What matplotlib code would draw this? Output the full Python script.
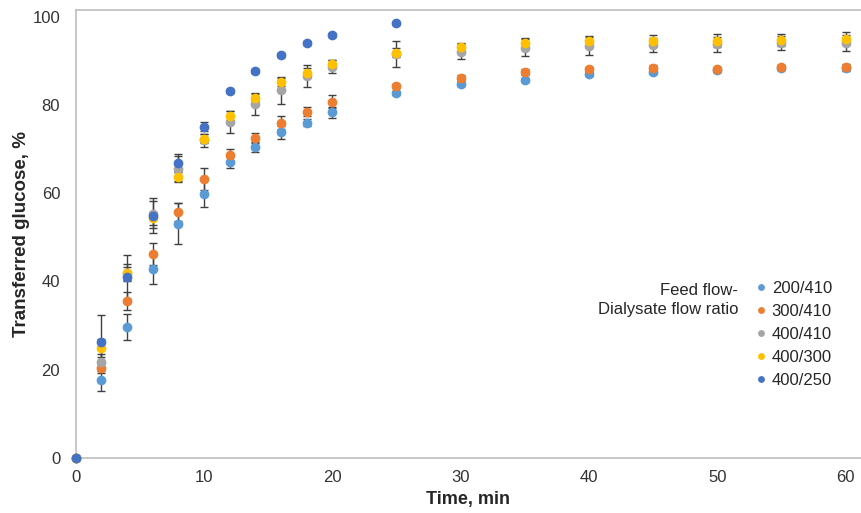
import matplotlib.pyplot as plt

plt.rcParams['font.family'] = ['Liberation Sans', 'DejaVu Sans']

# time points, min
t = [0, 2, 4, 6, 8, 10, 12, 14, 16, 18, 20, 25, 30, 35, 40, 45, 50, 55, 60]
t_250 = [0, 2, 4, 6, 8, 10, 12, 14, 16, 18, 20, 25]

# transferred glucose, %  (feed flow / dialysate flow)
g_200_410 = [0, 17.6, 29.7, 42.7, 53.1, 59.9, 67.0, 70.4, 73.8, 76.0, 78.3, 82.7, 84.7, 85.6, 87.0, 87.5, 87.9, 88.3, 88.3]
g_300_410 = [0, 20.3, 35.5, 46.3, 55.7, 63.1, 68.6, 72.6, 76.0, 78.5, 80.7, 84.3, 86.2, 87.4, 88.1, 88.3, 88.1, 88.5, 88.5]
g_400_410 = [0, 21.6, 42.0, 55.2, 65.5, 72.0, 76.1, 80.2, 83.3, 86.6, 88.7, 91.5, 92.1, 93.0, 93.4, 93.6, 93.8, 94.0, 94.0]
g_400_300 = [0, 24.9, 41.8, 54.3, 63.7, 72.3, 77.6, 81.6, 85.2, 87.3, 89.3, 91.8, 93.1, 94.0, 94.4, 94.6, 94.6, 94.7, 95.0]
g_400_250 = [0, 26.3, 41.0, 54.9, 66.9, 75.1, 83.2, 87.7, 91.3, 94.0, 95.8, 98.5]

# error bars (+/-)
e_200_410 = [0, 2.5, 3.0, 3.2, 4.7, 3.1, 1.2, 1.0, 1.5, 0.8, 1.2, 0.5, 0.5, 0.5, 0.4, 0.4, 0.4, 0.4, 0.4]
e_300_410 = [0, 1.0, 2.0, 2.5, 2.0, 2.5, 1.5, 1.0, 1.5, 1.0, 1.5, 0.5, 0.7, 0.7, 0.5, 0.7, 0.6, 0.6, 0.7]
e_400_410 = [0, 2.0, 2.0, 3.0, 3.0, 1.5, 2.5, 2.5, 3.0, 2.5, 1.5, 3.0, 1.7, 2.0, 2.0, 1.5, 1.7, 1.6, 1.8]
e_400_300 = [0, 2.0, 1.5, 1.5, 1.0, 1.0, 1.0, 0.8, 1.0, 1.0, 1.0, 1.0, 1.0, 1.2, 1.3, 1.3, 1.5, 1.4, 1.5]
e_400_250 = [0, 6.0, 5.0, 4.0, 2.0, 1.0, 0.4, 0.4, 0.4, 0.5, 0.5, 0.4]

series = [
    ('200/410', t, g_200_410, e_200_410, '#5B9BD5'),
    ('300/410', t, g_300_410, e_300_410, '#ED7D31'),
    ('400/410', t, g_400_410, e_400_410, '#A5A5A5'),
    ('400/300', t, g_400_300, e_400_300, '#FFC000'),
    ('400/250', t_250, g_400_250, e_400_250, '#4472C4'),
]

fig = plt.figure(figsize=(8.61, 5.13), dpi=100)
ax = fig.add_axes([0.0877, 0.1078, 0.9123, 0.8733])

# error bars first, markers on top
for name, x, y, e, c in series:
    ax.errorbar(x, y, yerr=e, fmt='none', ecolor='#404040', elinewidth=1,
                capsize=2.8, capthick=1, zorder=2)
for name, x, y, e, c in series:
    ax.plot(x, y, 'o', color=c, ms=6, label=name, zorder=3, clip_on=False)

ax.set_xlim(0, 61.2)
ax.set_ylim(0, 101.6)
ax.set_xticks(range(0, 61, 10))
ax.set_yticks(range(0, 101, 20))
ax.tick_params(length=0, labelsize=12, colors='#333333')
ax.tick_params(axis='y', pad=11)
ax.tick_params(axis='x', pad=9)

for s in ['left', 'bottom', 'top']:
    ax.spines[s].set_color('#BFBFBF')
    ax.spines[s].set_linewidth(1.2)
ax.spines['right'].set_visible(False)

ax.set_xlabel('Time, min', fontsize=13, fontweight='bold', color='#262626', labelpad=4)
ax.set_ylabel('Transferred glucose, %', fontsize=13.5, fontweight='bold', color='#262626', labelpad=2)

fig.legend(loc='upper left', bbox_to_anchor=(0.876, 0.452), bbox_transform=fig.transFigure,
           frameon=False, fontsize=12, markerscale=0.65, handlelength=0.8,
           handletextpad=0.25, labelspacing=0.48, borderaxespad=0, borderpad=0,
           labelcolor='#262626')
fig.text(738 / 861, (513 - 300) / 513, 'Feed flow-\nDialysate flow ratio', ha='right',
         va='center', multialignment='right', fontsize=12, color='#262626', linespacing=1.3)

fig.savefig('out.png', dpi=100)
